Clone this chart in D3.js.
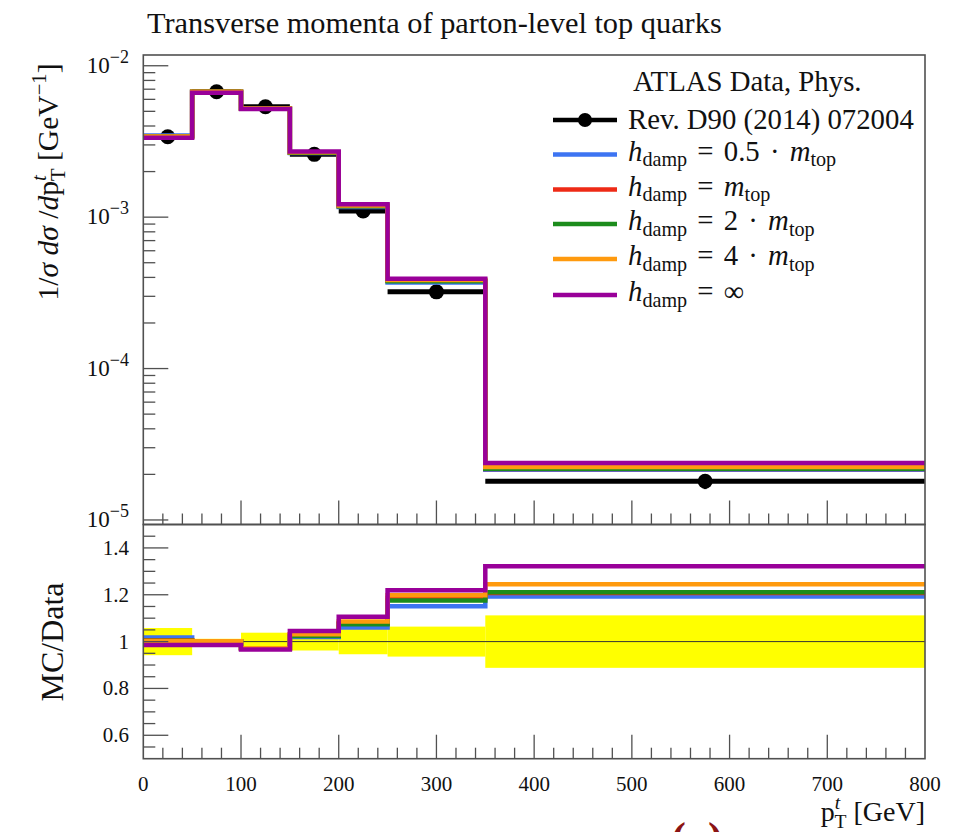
<!DOCTYPE html>
<html><head><meta charset="utf-8">
<script src="https://cdn.jsdelivr.net/npm/d3@7"></script>
<style>body{margin:0;background:#fff}</style>
</head><body>
<script>
// ---------------- data ----------------
const binEdges   = [0, 50, 100, 150, 200, 250, 350, 800];
const dataValues = [3.40e-3, 6.73e-3, 5.36e-3, 2.60e-3, 1.10e-3, 3.21e-4, 1.80e-5];
const dataRelErr = [0.058, 0.012, 0.038, 0.038, 0.054, 0.064, 0.112];
const ratioHalf  = [1.017, 1.002, 0.972, 1.020, 1.060, 1.151, 1.193];
const ratioOne   = [1.006, 1.001, 0.972, 1.030, 1.078, 1.186, 1.208];
const ratioTwo   = [1.004, 1.000, 0.972, 1.024, 1.074, 1.176, 1.211];
const ratioFour  = [1.003, 1.001, 0.972, 1.031, 1.086, 1.198, 1.245];
const ratioInf   = [0.985, 0.985, 0.966, 1.045, 1.106, 1.219, 1.322];
const seriesRatios = [ratioHalf, ratioOne, ratioTwo, ratioFour, ratioInf];
const seriesColors = ["#3d74f2", "#ee2a16", "#1c8c1c", "#ff9a0e", "#990099"];
const seriesFactors = ["0.5 \u00b7 ", "", "2 \u00b7 ", "4 \u00b7 ", null];
const xTickValues = [0, 100, 200, 300, 400, 500, 600, 700, 800];
const logTickExps = [-2, -3, -4, -5];
const ratioTickValues = [0.6, 0.8, 1, 1.2, 1.4];
const ratioTickLabels = ["0.6", "0.8", "1", "1.2", "1.4"];
const titleText = "Transverse momenta of parton-level top quarks";
const dataLabel1 = "ATLAS Data, Phys.";
const dataLabel2 = "Rev. D90 (2014) 072004";

// ---------------- layout ----------------
const W = 969, H = 832;
const FONT = "'Liberation Serif','DejaVu Serif',serif";
const left = 143.3, right = 925;
const upTop = 55, upBot = 524.5, rBot = 758.7;
const frameCol = "#505050";

const svg = d3.select("body").append("svg").attr("width", W).attr("height", H)
  .style("font-family", FONT);

const x = d3.scaleLinear().domain([0, 800]).range([left, right]);
const yUp = d3.scaleLog().domain([Math.pow(10, -5.030), Math.pow(10, -1.929)]).range([upBot, upTop]);
const yR = d3.scaleLinear().domain([0.5, 1.5]).range([rBot, upBot]);

// rich text helper
function buildRich(g, parts, fs, subShift) {
  const sShift = subShift === undefined ? 0.25 : subShift;
  const t = g.append("text").attr("font-size", fs + "px").attr("fill", "#111");
  let shift = 0;
  parts.forEach(p => {
    const ts = t.append("tspan").text(p.t);
    if (p.it) ts.attr("font-style", "italic");
    const target = p.sub ? sShift : (p.sup ? -0.42 : 0);
    const small = (p.sub || p.sup);
    if (small) ts.attr("font-size", (fs * 0.7) + "px");
    if (target !== shift) { ts.attr("dy", (target - shift) * fs); shift = target; }
    if (p.dx) ts.attr("dx", p.dx * fs);
  });
  return t;
}
function measureRich(g, parts, fs) {
  const t0 = buildRich(g, parts, fs);
  const w = t0.node().getComputedTextLength();
  t0.remove();
  return w;
}
function fitRich(g, parts, fs0, targetW) {
  const w = measureRich(g, parts, fs0);
  return buildRich(g, parts, fs0 * targetW / w);
}

// ---------------- ratio panel ----------------
const rp = svg.append("g");
rp.selectAll("rect.band").data(dataRelErr).join("rect")
  .attr("x", (d, i) => x(binEdges[i]))
  .attr("width", (d, i) => x(binEdges[i + 1]) - x(binEdges[i]))
  .attr("y", d => yR(1 + d))
  .attr("height", d => yR(1 - d) - yR(1 + d))
  .attr("fill", "#ffff00");
rp.append("line").attr("x1", x(0)).attr("x2", x(800)).attr("y1", yR(1)).attr("y2", yR(1))
  .attr("stroke", "#333").attr("stroke-width", 1);

function stepPoints(vals) {
  const pts = [];
  vals.forEach((v, i) => { pts.push([binEdges[i], v]); pts.push([binEdges[i + 1], v]); });
  return pts;
}
const lineR = d3.line().x(d => x(d[0])).y(d => yR(d[1]));
seriesRatios.forEach((r, k) => {
  rp.append("path").attr("d", lineR(stepPoints(r))).attr("fill", "none")
    .attr("stroke", seriesColors[k]).attr("stroke-width", 4.5).attr("stroke-linejoin", "miter");
});

// ---------------- upper panel ----------------
const up = svg.append("g");
dataValues.forEach((v, i) => {
  up.append("line").attr("x1", x(binEdges[i])).attr("x2", x(binEdges[i + 1]))
    .attr("y1", yUp(v)).attr("y2", yUp(v)).attr("stroke", "#000").attr("stroke-width", 5);
  const xc = (binEdges[i] + binEdges[i + 1]) / 2;
  up.append("line").attr("x1", x(xc)).attr("x2", x(xc))
    .attr("y1", yUp(v * (1 + dataRelErr[i]))).attr("y2", yUp(v * (1 - dataRelErr[i])))
    .attr("stroke", "#000").attr("stroke-width", 3);
  up.append("circle").attr("cx", x(xc)).attr("cy", yUp(v)).attr("r", 7.5).attr("fill", "#000");
});
const lineU = d3.line().x(d => x(d[0])).y(d => yUp(d[1]));
seriesRatios.forEach((r, k) => {
  const mc = r.map((rv, i) => rv * dataValues[i]);
  up.append("path").attr("d", lineU(stepPoints(mc))).attr("fill", "none")
    .attr("stroke", seriesColors[k]).attr("stroke-width", 4.5);
});

// ---------------- frames & ticks ----------------
const fr = svg.append("g").attr("stroke", frameCol).attr("fill", "none");
fr.append("rect").attr("x", left).attr("y", upTop).attr("width", right - left).attr("height", upBot - upTop).attr("stroke-width", 1.6);
fr.append("rect").attr("x", left).attr("y", upBot).attr("width", right - left).attr("height", rBot - upBot).attr("stroke-width", 1.6);

const xMinor = d3.range(0, 801, 20);
[upBot, rBot].forEach(yb => {
  xMinor.forEach(v => {
    if (v === 0 || v === 800) return;
    const major = v % 100 === 0;
    fr.append("line").attr("x1", x(v)).attr("x2", x(v)).attr("y1", yb).attr("y2", yb - (major ? 24 : 11))
      .attr("stroke-width", 1.3);
  });
});
for (let e = -5; e <= -2; e++) {
  for (let k = 1; k <= 9; k++) {
    const v = k * Math.pow(10, e);
    if (v > yUp.domain()[1] || v < yUp.domain()[0]) continue;
    fr.append("line").attr("x1", left).attr("x2", left + (k === 1 ? 25 : 12))
      .attr("y1", yUp(v)).attr("y2", yUp(v)).attr("stroke-width", 1.3);
  }
}
d3.range(0.55, 1.46, 0.05).forEach(v => {
  const vv = Math.round(v * 100) / 100;
  const major = Math.abs(vv * 5 - Math.round(vv * 5)) < 1e-6;
  fr.append("line").attr("x1", left).attr("x2", left + (major ? 25 : 12))
    .attr("y1", yR(vv)).attr("y2", yR(vv)).attr("stroke-width", 1.3);
});

// ---------------- tick labels ----------------
const tl = svg.append("g").attr("fill", "#111");
xTickValues.forEach(v => {
  tl.append("text").attr("x", x(v)).attr("y", 791).attr("text-anchor", "middle")
    .attr("font-size", "21px").text(v);
});
ratioTickValues.forEach((v, i) => {
  tl.append("text").attr("x", 129).attr("y", yR(v) + 7).attr("text-anchor", "end")
    .attr("font-size", "21px").text(ratioTickLabels[i]);
});
logTickExps.forEach(e => {
  const t = tl.append("text").attr("x", 129).attr("y", yUp(Math.pow(10, e)) + 7)
    .attr("text-anchor", "end").attr("font-size", "23px");
  t.append("tspan").text("10");
  t.append("tspan").attr("dy", -10).attr("font-size", "18px").text("\u2212" + (-e));
});

// ---------------- titles ----------------
const tg = svg.append("g");
const title = fitRich(tg, [{t: titleText}], 25, 575);
title.attr("x", 147).attr("y", 33);

const yl = svg.append("g").attr("transform", "translate(58,182) rotate(-90)");
const ylParts = [{t: "1/"}, {t: "\u03c3", it: true}, {t: " d", it: true}, {t: "\u03c3", it: true},
  {t: " /"}, {t: "d", it: true}, {t: "p"}, {t: "t", it: true, sup: true}, {t: "T", sub: true, dx: -0.2},
  {t: " [GeV"}, {t: "\u22121", sup: true}, {t: "]"}];
fitRich(yl, ylParts, 24, 243).attr("text-anchor", "middle");

const rl = svg.append("g").attr("transform", "translate(63,642) rotate(-90)");
fitRich(rl, [{t: "MC/Data"}], 24, 119).attr("text-anchor", "middle");

const xl = svg.append("g").attr("transform", "translate(925,821)");
fitRich(xl, [{t: "p"}, {t: "t", it: true, sup: true}, {t: "T", sub: true, dx: -0.2}, {t: " [GeV]"}], 24, 110)
  .attr("text-anchor", "end");

// ---------------- legend ----------------
const lg = svg.append("g");
const legX1 = 553, legX2 = 617, legTX = 628;
const legRowY = [120, 154.5, 189.5, 224, 259, 295];
const legFS = 25 * 286 / measureRich(lg, [{t: dataLabel2}], 25);
buildRich(lg, [{t: dataLabel1}], legFS).attr("x", 633).attr("y", 91);
buildRich(lg, [{t: dataLabel2}], legFS).attr("x", legTX).attr("y", legRowY[0] + 9);
lg.append("line").attr("x1", legX1).attr("x2", legX2).attr("y1", legRowY[0]).attr("y2", legRowY[0])
  .attr("stroke", "#000").attr("stroke-width", 4.5);
lg.append("circle").attr("cx", (legX1 + legX2) / 2).attr("cy", legRowY[0]).attr("r", 7).attr("fill", "#000");

function mathParts(k) {
  const parts = [{t: "h", it: true}, {t: "damp", sub: true}, {t: " = "}];
  if (seriesFactors[k] === null) parts.push({t: "\u221e"});
  else { parts.push({t: seriesFactors[k]}); parts.push({t: "m", it: true}); parts.push({t: "top", sub: true}); }
  return parts;
}
const mathFS = legFS;
seriesColors.forEach((c, k) => {
  const yy = legRowY[k + 1];
  lg.append("line").attr("x1", legX1).attr("x2", legX2).attr("y1", yy).attr("y2", yy)
    .attr("stroke", c).attr("stroke-width", 4.5);
  buildRich(lg, mathParts(k), mathFS, 0.2).attr("x", legTX).attr("y", yy + 6)
    .attr("word-spacing", "3px");
});

// partially visible caption below the figure
svg.append("text").attr("x", 697).attr("y", 853).attr("text-anchor", "middle")
  .attr("font-size", "44px").attr("font-weight", "bold").attr("fill", "#8b1414").text("(a)");
</script>
</body></html>
